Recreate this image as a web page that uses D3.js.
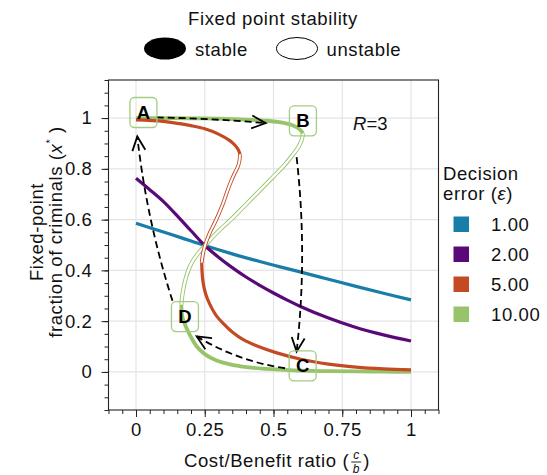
<!DOCTYPE html>
<html><head><meta charset="utf-8">
<script src="https://cdn.jsdelivr.net/npm/d3@7"></script>
<style>
html,body{margin:0;padding:0;background:#fff;}
svg{display:block;font-family:"Liberation Sans",Arial,sans-serif;}
</style></head>
<body><svg id="chart" width="547" height="475"></svg>
<script>
// ---------------- data ----------------
const epsilonLabels = ["1.00", "2.00", "5.00", "10.00"];
const seriesColors = ["#187ea9", "#5a0a78", "#c34a22", "#97c46a"];
const xTickValues = [0, 0.25, 0.5, 0.75, 1];
const xTickLabels = ["0", "0.25", "0.5", "0.75", "1"];
const yTickValues = [0, 0.2, 0.4, 0.6, 0.8, 1];
const yTickLabels = ["0", "0.2", "0.4", "0.6", "0.8", "1"];

// [cost/benefit ratio, fixed-point fraction]
const eps1Stable = [[0,0.586],[0.1,0.551],[0.16,0.53],[0.25,0.498],[0.35,0.465],[0.45,0.435],[0.524,0.414],[0.6,0.393],[0.7,0.365],[0.8,0.337],[0.9,0.31],[1,0.284]];
const eps2Stable = [[0,0.763],[0.05,0.718],[0.1,0.671],[0.16,0.603],[0.2,0.556],[0.25,0.498],[0.3,0.452],[0.35,0.411],[0.4,0.374],[0.45,0.341],[0.5,0.311],[0.55,0.283],[0.6,0.257],[0.7,0.212],[0.8,0.175],[0.9,0.146],[1,0.122]];
const eps5StableHigh = [[0,0.993],[0.1,0.987],[0.2,0.97],[0.25,0.958],[0.3,0.937],[0.34,0.912],[0.36,0.893],[0.372,0.875],[0.378,0.858]];
const eps5Unstable = [[0.378,0.858],[0.376,0.83],[0.37,0.808],[0.36,0.785],[0.348,0.757],[0.333,0.715],[0.318,0.668],[0.3,0.62],[0.283,0.58],[0.269,0.55],[0.258,0.52],[0.248,0.487],[0.242,0.456],[0.239,0.43]];
const eps5StableLow = [[0.239,0.43],[0.24,0.4],[0.242,0.37],[0.246,0.34],[0.254,0.305],[0.269,0.265],[0.29,0.225],[0.318,0.19],[0.35,0.157],[0.39,0.127],[0.45,0.098],[0.512,0.075],[0.6,0.05],[0.7,0.031],[0.8,0.019],[0.9,0.012],[1,0.008]];
const eps10StableHigh = [[0,1.0],[0.1,1.0],[0.2,0.999],[0.3,0.998],[0.4,0.994],[0.463,0.99],[0.52,0.984],[0.56,0.975],[0.585,0.963],[0.6,0.95],[0.607,0.94]];
const eps10Unstable = [[0.607,0.94],[0.603,0.915],[0.59,0.885],[0.57,0.855],[0.54,0.815],[0.5,0.77],[0.45,0.715],[0.4,0.66],[0.35,0.605],[0.3,0.555],[0.257,0.506],[0.23,0.472],[0.208,0.44],[0.192,0.405],[0.18,0.365],[0.172,0.325],[0.167,0.29],[0.165,0.265]];
const eps10StableLow = [[0.165,0.265],[0.166,0.235],[0.17,0.21],[0.177,0.19],[0.184,0.172],[0.2,0.137],[0.221,0.1],[0.25,0.07],[0.293,0.045],[0.35,0.028],[0.403,0.019],[0.46,0.013],[0.524,0.009],[0.6,0.005],[0.7,0.003],[0.8,0.002],[0.9,0.001],[1,0.0005]];

const pointNames = ["A", "B", "C", "D"];
const pointCost = [0.027, 0.607, 0.606, 0.178];
const pointFraction = [1.022, 0.989, 0.024, 0.218];

// dashed transition arrows: from, to (data), arc curvature
const arrowFrom = [[0.0753,1.0024],[0.584,0.846],[0.542,0.0145],[0.1327,0.28]];
const arrowTo   = [[0.4716,0.98],[0.584,0.08],[0.2207,0.14],[0.0047,0.9275]];
const arrowRad  = [-0.018,-0.057,-0.1,-0.05];

// ---------------- chart ----------------
const svg = d3.select("#chart");
const X0 = 108.5, X1 = 438.5, Y0 = 80, Y1 = 410;
const x = d3.scaleLinear().domain([-0.1, 1.1]).range([X0, X1]);
const y = d3.scaleLinear().domain([-0.15, 1.15]).range([Y1, Y0]);

// gridlines
const grid = svg.append("g");
grid.selectAll("line.vx").data(xTickValues).join("line")
  .attr("x1", d => x(d)).attr("x2", d => x(d)).attr("y1", Y0).attr("y2", Y1)
  .attr("stroke", "#e4e4e4").attr("stroke-width", 1.2);
grid.selectAll("line.hy").data(yTickValues).join("line")
  .attr("y1", d => y(d)).attr("y2", d => y(d)).attr("x1", X0).attr("x2", X1)
  .attr("stroke", "#e4e4e4").attr("stroke-width", 1.2);

// axes
const fontSize = 18.5;
const xMinor = d3.range(-0.1, 1.1001, 0.05).map(v => +v.toFixed(2));
const yMinor = d3.range(-0.15, 1.1501, 0.05).map(v => +v.toFixed(2));
const gxMinor = svg.append("g").attr("transform", `translate(0,${Y1})`)
  .call(d3.axisBottom(x).tickValues(xMinor).tickSize(4).tickFormat(""));
const gx = svg.append("g").attr("transform", `translate(0,${Y1})`)
  .call(d3.axisBottom(x).tickValues(xTickValues).tickSize(7).tickPadding(6)
    .tickFormat((d, i) => xTickLabels[i]));
const gyMinor = svg.append("g").attr("transform", `translate(${X0},0)`)
  .call(d3.axisLeft(y).tickValues(yMinor).tickSize(4).tickFormat(""));
const gy = svg.append("g").attr("transform", `translate(${X0},0)`)
  .call(d3.axisLeft(y).tickValues(yTickValues).tickSize(7).tickPadding(9)
    .tickFormat((d, i) => yTickLabels[i]));
[gxMinor, gx, gyMinor, gy].forEach(g => {
  g.select(".domain").remove();
  g.selectAll(".tick line").attr("stroke", "#222").attr("stroke-width", 1);
  g.selectAll("text").attr("font-size", fontSize).attr("fill", "#111")
    .attr("font-family", "Liberation Sans, Arial, sans-serif").attr("letter-spacing", 0.6);
});

// frame
svg.append("rect").attr("x", X0).attr("y", Y0).attr("width", X1 - X0).attr("height", Y1 - Y0)
  .attr("fill", "none").attr("stroke", "#222").attr("stroke-width", 1.1);

// curves
const line = d3.line().x(d => x(d[0])).y(d => y(d[1])).curve(d3.curveCatmullRom.alpha(0.5));
const plot = svg.append("g");
function stable(data, color, w) {
  plot.append("path").attr("d", line(data)).attr("fill", "none")
    .attr("stroke", color).attr("stroke-width", w).attr("stroke-linecap", "butt");
}
function unstable(data, color, wOuter, wInner) {
  plot.append("path").attr("d", line(data)).attr("fill", "none")
    .attr("stroke", color).attr("stroke-width", wOuter);
  plot.append("path").attr("d", line(data)).attr("fill", "none")
    .attr("stroke", "#fff").attr("stroke-width", wInner);
}
stable(eps1Stable, seriesColors[0], 3.2);
stable(eps2Stable, seriesColors[1], 3.2);
unstable(eps10Unstable, seriesColors[3], 4.2, 2.4);
stable(eps10StableHigh, seriesColors[3], 3.8);
stable(eps10StableLow, seriesColors[3], 3.8);
unstable(eps5Unstable, seriesColors[2], 3.8, 2.0);
stable(eps5StableHigh, seriesColors[2], 3.2);
stable(eps5StableLow, seriesColors[2], 3.2);

// arrows
const arrowsG = svg.append("g");
arrowFrom.forEach((f, i) => {
  const x1 = x(f[0]), y1 = y(f[1]), x2 = x(arrowTo[i][0]), y2 = y(arrowTo[i][1]);
  const r = arrowRad[i];
  const mx = (x1 + x2) / 2, my = (y1 + y2) / 2;
  const cx = mx - r * (y2 - y1), cy = my + r * (x2 - x1);
  arrowsG.append("path").attr("d", `M${x1},${y1}Q${cx},${cy} ${x2},${y2}`)
    .attr("fill", "none").attr("stroke", "#000").attr("stroke-width", 1.8)
    .attr("stroke-dasharray", "7,4");
  let ux = x2 - cx, uy = y2 - cy; const L = Math.hypot(ux, uy); ux /= L; uy /= L;
  const hl = 14, hw = 6.5;
  arrowsG.append("path")
    .attr("d", `M${x2 - hl * ux - hw * uy},${y2 - hl * uy + hw * ux}L${x2},${y2}L${x2 - hl * ux + hw * uy},${y2 - hl * uy - hw * ux}`)
    .attr("fill", "none").attr("stroke", "#000").attr("stroke-width", 1.8);
});

// point labels
const labG = svg.append("g");
pointNames.forEach((n, i) => {
  const cx = x(pointCost[i]), cy = y(pointFraction[i]);
  labG.append("rect").attr("x", cx - 13.5).attr("y", cy - 15).attr("width", 27).attr("height", 30)
    .attr("rx", 4.5).attr("fill", "none").attr("stroke", "#a3cc85").attr("stroke-width", 1.3);
  labG.append("text").attr("x", cx).attr("y", cy + 6.5).attr("text-anchor", "middle")
    .attr("font-size", 18.5).attr("font-weight", "bold").attr("fill", "#000").text(n);
});

// R=3
const rt = svg.append("text").attr("x", 353).attr("y", 130).attr("font-size", fontSize).attr("fill", "#111");
rt.append("tspan").attr("font-style", "italic").text("R");
rt.append("tspan").text("=3");

// axis labels
const xl = svg.append("g");
const xlText = xl.append("text").attr("x", 184).attr("y", 467).attr("font-size", fontSize)
  .attr("letter-spacing", 0.6).attr("fill", "#111").text("Cost/Benefit ratio (");
const wx = xlText.node().getComputedTextLength();
const fx = 184 + wx + 2;
xl.append("text").attr("x", fx + 5).attr("y", 459).attr("font-size", 12).attr("text-anchor", "middle").attr("fill", "#111").attr("font-style", "italic").text("c");
xl.append("line").attr("x1", fx).attr("x2", fx + 10).attr("y1", 462).attr("y2", 462).attr("stroke", "#111").attr("stroke-width", 0.9);
xl.append("text").attr("x", fx + 5).attr("y", 473).attr("font-size", 12).attr("text-anchor", "middle").attr("fill", "#111").attr("font-style", "italic").text("b");
xl.append("text").attr("x", fx + 12).attr("y", 467).attr("font-size", fontSize).attr("fill", "#111").text(")");

const yl = svg.append("g").attr("transform", "translate(0,232) rotate(-90)");
yl.append("text").attr("x", 0).attr("y", 43).attr("text-anchor", "middle").attr("font-size", fontSize)
  .attr("letter-spacing", 0.6).attr("fill", "#111").text("Fixed-point");
const yl2 = yl.append("text").attr("x", 0).attr("y", 62).attr("text-anchor", "middle").attr("font-size", fontSize)
  .attr("letter-spacing", 0.6).attr("fill", "#111");
yl2.append("tspan").text("fraction of criminals (");
yl2.append("tspan").attr("font-style", "italic").text("x");
yl2.append("tspan").attr("dy", -8).attr("font-size", 11).text("*");
yl2.append("tspan").attr("dy", 8).text(" )");

// top legend
const tl = svg.append("g");
tl.append("text").attr("x", 273).attr("y", 25).attr("text-anchor", "middle").attr("font-size", fontSize)
  .attr("letter-spacing", 0.6).attr("fill", "#111").text("Fixed point stability");
tl.append("ellipse").attr("cx", 165).attr("cy", 48.5).attr("rx", 21).attr("ry", 11).attr("fill", "#000");
tl.append("text").attr("x", 195).attr("y", 55.5).attr("font-size", fontSize).attr("letter-spacing", 0.6).attr("fill", "#111").text("stable");
tl.append("ellipse").attr("cx", 297).attr("cy", 48.5).attr("rx", 20.5).attr("ry", 11).attr("fill", "#fff").attr("stroke", "#000").attr("stroke-width", 1);
tl.append("text").attr("x", 326.5).attr("y", 55.5).attr("font-size", fontSize).attr("letter-spacing", 0.6).attr("fill", "#111").text("unstable");

// right legend
const rl = svg.append("g");
rl.append("text").attr("x", 443).attr("y", 180).attr("font-size", fontSize).attr("letter-spacing", 0.6).attr("fill", "#111").text("Decision");
const et = rl.append("text").attr("x", 443).attr("y", 200).attr("font-size", fontSize).attr("letter-spacing", 0.6).attr("fill", "#111");
et.append("tspan").text("error (");
et.append("tspan").attr("font-style", "italic").text("ε");
et.append("tspan").text(")");
epsilonLabels.forEach((lab, i) => {
  rl.append("rect").attr("x", 453.5).attr("y", 216.5 + i * 30).attr("width", 15.5).attr("height", 15.5).attr("fill", seriesColors[i]);
  rl.append("text").attr("x", 491).attr("y", 231 + i * 30).attr("font-size", fontSize).attr("letter-spacing", 0.6).attr("fill", "#111").text(lab);
});
</script></body></html>
